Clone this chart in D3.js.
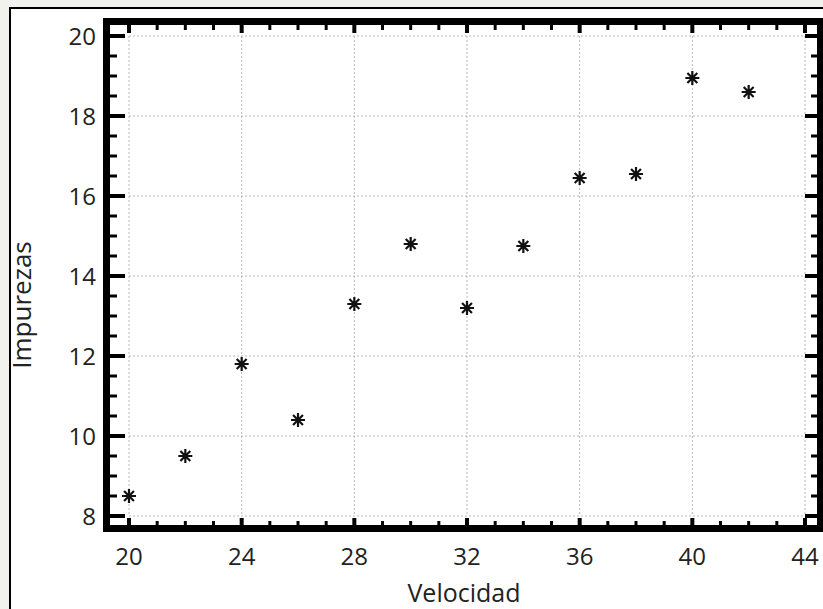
<!DOCTYPE html>
<html>
<head>
<meta charset="utf-8">
<script src="https://cdn.jsdelivr.net/npm/d3@7"></script>
<style>
  html, body { margin: 0; padding: 0; background: #f1f2ee; }
  svg { display: block; }
  text { font-family: 'Open Sans', 'Noto Sans', sans-serif; fill: #222; }
</style>
</head>
<body>
<svg width="823" height="609"></svg>
<script>
// data
const velocidad = [20, 22, 24, 26, 28, 30, 32, 34, 36, 38, 40, 42];
const impurezas = [8.5, 9.5, 11.8, 10.4, 13.3, 14.8, 13.2, 14.75, 16.45, 16.55, 18.95, 18.6];
const xTicks = [20, 24, 28, 32, 36, 40, 44];
const yTicks = [8, 10, 12, 14, 16, 18, 20];
const xLabel = 'Velocidad';
const yLabel = 'Impurezas';

const svg = d3.select('svg');

// outer white box
svg.append('rect')
  .attr('x', 10).attr('y', 8)
  .attr('width', 830).attr('height', 620)
  .attr('fill', '#fff')
  .attr('stroke', '#000')
  .attr('stroke-width', 2);

const x = d3.scaleLinear().domain([20, 44]).range([129, 805]);
const y = d3.scaleLinear().domain([8, 20]).range([516, 36]);

// frame edges (inner)
const fL = 110, fR = 817, fT = 25, fB = 525;

// dotted grid
const grid = svg.append('g').attr('stroke', '#b8b8b8').attr('stroke-width', 1)
  .attr('stroke-dasharray', '2,2');
grid.selectAll('.gx').data(xTicks).enter().append('line')
  .attr('x1', (d) => x(d)).attr('x2', (d) => x(d))
  .attr('y1', y(20)).attr('y2', y(8));
grid.selectAll('.gy').data(yTicks).enter().append('line')
  .attr('y1', (d) => y(d)).attr('y2', (d) => y(d))
  .attr('x1', x(20)).attr('x2', x(44));

// ticks
const xMinor = d3.range(20, 44.01, 1);
const yMinor = d3.range(8, 20.01, 0.5);
const isMajorX = (d) => d % 4 === 0;
const isMajorY = (d) => d % 2 === 0;

const ticks = svg.append('g').attr('stroke', '#000');
// bottom
ticks.selectAll('.tb').data(xMinor).enter().append('line')
  .attr('x1', (d) => x(d)).attr('x2', (d) => x(d))
  .attr('y1', fB + 1).attr('y2', (d) => fB - (isMajorX(d) ? 7 : 4))
  .attr('stroke-width', (d) => isMajorX(d) ? 4 : 3);
// top
ticks.selectAll('.tt').data(xMinor).enter().append('line')
  .attr('x1', (d) => x(d)).attr('x2', (d) => x(d))
  .attr('y1', fT - 1).attr('y2', (d) => fT + (isMajorX(d) ? 8 : 5))
  .attr('stroke-width', (d) => isMajorX(d) ? 4 : 3);
// left
ticks.selectAll('.tl').data(yMinor).enter().append('line')
  .attr('y1', (d) => y(d)).attr('y2', (d) => y(d))
  .attr('x1', fL - 1).attr('x2', (d) => fL + (isMajorY(d) ? 15 : 7))
  .attr('stroke-width', (d) => isMajorY(d) ? 4 : 3);
// right
ticks.selectAll('.tr').data(yMinor).enter().append('line')
  .attr('y1', (d) => y(d)).attr('y2', (d) => y(d))
  .attr('x1', fR + 1).attr('x2', (d) => fR - (isMajorY(d) ? 12 : 6))
  .attr('stroke-width', (d) => isMajorY(d) ? 4 : 3);

// thick frame
svg.append('rect')
  .attr('x', fL - 3.5).attr('y', fT - 3.5)
  .attr('width', fR - fL + 7).attr('height', fB - fT + 7)
  .attr('fill', 'none')
  .attr('stroke', '#000')
  .attr('stroke-width', 7);

// tick labels
svg.append('g').selectAll('text').data(xTicks).enter().append('text')
  .attr('x', (d) => x(d)).attr('y', 565)
  .attr('text-anchor', 'middle')
  .attr('font-size', 24)
  .text((d) => d);
svg.append('g').selectAll('text').data(yTicks).enter().append('text')
  .attr('x', 96).attr('y', (d) => y(d) + 9)
  .attr('text-anchor', 'end')
  .attr('font-size', 24)
  .text((d) => d);

// axis titles
svg.append('text')
  .attr('x', 464).attr('y', 602)
  .attr('text-anchor', 'middle')
  .attr('font-size', 25)
  .text(xLabel);
svg.append('text')
  .attr('transform', 'translate(31,305) rotate(-90)')
  .attr('text-anchor', 'middle')
  .attr('font-size', 26)
  .text(yLabel);

// asterisk markers
const arm = 7;
const star = d3.range(4).map((i) => {
  const a = i * Math.PI / 4;
  return `M${-arm * Math.cos(a)},${-arm * Math.sin(a)}L${arm * Math.cos(a)},${arm * Math.sin(a)}`;
}).join('');
svg.append('g').selectAll('path').data(velocidad).enter().append('path')
  .attr('transform', (d, i) => `translate(${x(d)},${y(impurezas[i])})`)
  .attr('d', star)
  .attr('fill', 'none')
  .attr('stroke', '#111')
  .attr('stroke-width', 2.2);
</script>
</body>
</html>
